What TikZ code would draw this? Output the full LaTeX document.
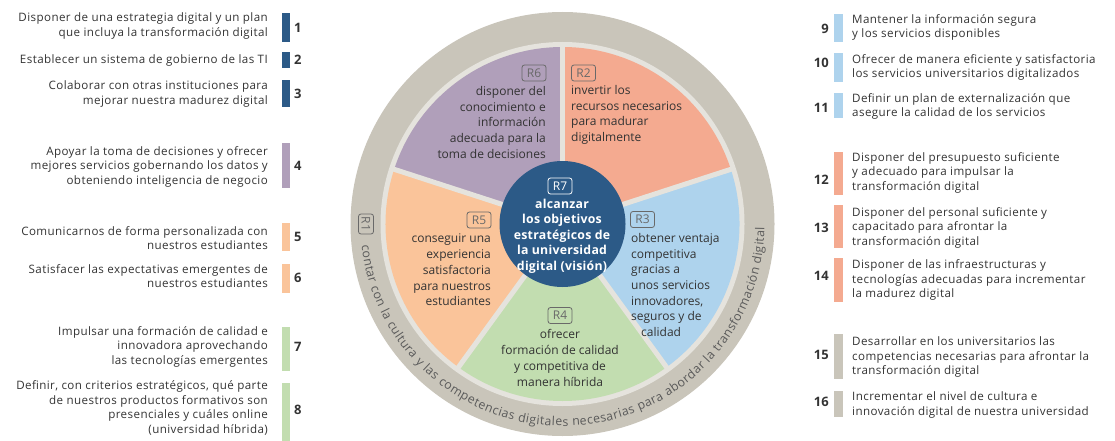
\documentclass[tikz,border=0pt]{standalone}
\usepackage{fontspec}
\setmainfont{Open Sans}
\newfontfamily\listfont{Open Sans}[LetterSpace=3.5]
\newfontfamily\ctrfont{Open Sans}[LetterSpace=2]
\usetikzlibrary{decorations.text}
\definecolor{dblue}{RGB}{44,90,135}
\definecolor{purp}{RGB}{176,159,186}
\definecolor{salm}{RGB}{244,170,144}
\definecolor{lblue}{RGB}{174,211,237}
\definecolor{lgreen}{RGB}{194,221,176}
\definecolor{peach}{RGB}{250,196,154}
\definecolor{ringc}{RGB}{201,197,186}
\definecolor{sepc}{RGB}{229,227,221}
\definecolor{txt}{RGB}{51,51,51}
\definecolor{rboxc}{RGB}{105,105,105}
\definecolor{ringtxt}{RGB}{90,90,90}
\tikzset{
  ltxt/.style={font=\listfont\fontsize{11.6}{14.5}\selectfont, text=txt, inner sep=0pt, align=right, anchor=east},
  rtxt/.style={font=\listfont\fontsize{11.6}{14.5}\selectfont, text=txt, inner sep=0pt, align=left, anchor=west},
  num/.style={font=\fontsize{13}{14}\selectfont\bfseries, text=txt, inner sep=0pt},
  rlab/.style={draw=rboxc, rounded corners=2.5pt, line width=0.8pt, text=rboxc, font=\fontsize{12}{12}\selectfont, inner sep=0pt, minimum width=24pt, minimum height=16pt},
  ptxt/.style={font=\fontsize{12}{15.7}\selectfont, text=txt, inner sep=0pt},
  septh/.style={draw=sepc, line width=5pt},
}
\begin{document}
\begin{tikzpicture}[x=1pt,y=-1pt]
\useasboundingbox (0,0) rectangle (1115,441);
% ---------- wheel ----------
\begin{scope}[shift={(562.5,224)}, y=1pt]
  \fill[ringc] (0,0) circle[radius=212];
  \fill[sepc] (0,0) circle[radius=182];
  \fill[purp] (0,0) -- (90:177) arc[start angle=90, end angle=162, radius=177] -- cycle;
  \fill[salm] (0,0) -- (18:177) arc[start angle=18, end angle=90, radius=177] -- cycle;
  \fill[lblue] (0,0) -- (-54:177) arc[start angle=-54, end angle=18, radius=177] -- cycle;
  \fill[lgreen] (0,0) -- (-126:177) arc[start angle=-126, end angle=-54, radius=177] -- cycle;
  \fill[peach] (0,0) -- (162:177) arc[start angle=162, end angle=234, radius=177] -- cycle;
  \coordinate (c0) at (0,0);
  \foreach \a in {90,18,-54,-126,162} {
    \coordinate (s\a) at (\a:180);
    \draw[septh] (c0) -- (s\a);
  }
  \fill[dblue] (0,0) circle[radius=63];
  \path[decorate, decoration={text along path, text align={fit to path},
      text={|\fontsize{12.3}{14}\selectfont\color{ringtxt}|contar con la cultura y las competencias digitales necesarias para abordar la transformación digital}}]
      (186:202) arc[start angle=186, end angle=359, radius=202];
  \node[rlab, rotate=-90, minimum width=20pt, minimum height=15pt] (r1) at (180:196.5) {R1};
\end{scope}
% ---------- wheel labels ----------
\node[rlab] (r6) at (534,73) {R6};
\node[ptxt, align=right, anchor=east] (p6) at (546,122.5) {disponer del\\conocimiento e\\información\\adecuada para la\\toma de decisiones};
\node[rlab] (r2) at (583.5,73) {R2};
\node[ptxt, align=left, anchor=west] (p2) at (571,114.75) {invertir los\\recursos necesarios\\para madurar\\digitalmente};
\node[rlab] (r3) at (642.5,219.5) {R3};
\node[ptxt, align=left, anchor=west] (p3) at (631,285) {obtener ventaja\\competitiva\\gracias a\\unos servicios\\innovadores,\\seguros y de\\\hspace*{10pt}calidad};
\node[rlab] (r4) at (560,315.5) {R4};
\node[ptxt, align=center] (p4) at (560,358) {ofrecer\\formación de calidad\\y competitiva de\\manera híbrida};
\node[rlab] (r5) at (479,220) {R5};
\node[ptxt, align=right, anchor=east] (p5) at (491,270) {conseguir una\\experiencia\\satisfactoria\\para nuestros\\estudiantes};
\node[rlab, draw=white, text=white] (r7) at (560,186) {R7};
\node[ptxt, align=center, text=white, font=\ctrfont\fontsize{12.3}{15.5}\selectfont\bfseries] (p7) at (562,236) {alcanzar\\los objetivos\\estratégicos de\\la universidad\\digital (visión)};
% ---------- left list ----------
\node[ltxt] (t1) at (268,26) {Disponer de una estrategia digital y un plan\\que incluya la transformación digital};
\fill[dblue] (282,13) rectangle (290,42);
\node[num, anchor=west] (n1) at (294,28) {1};
\node[ltxt] (t2) at (268,60) {Establecer un sistema de gobierno de las TI};
\fill[dblue] (282,52) rectangle (290,68);
\node[num, anchor=west] (n2) at (294,60) {2};
\node[ltxt] (t3) at (268,94) {Colaborar con otras instituciones para\\mejorar nuestra madurez digital};
\fill[dblue] (282,80) rectangle (290,107);
\node[num, anchor=west] (n3) at (294,94) {3};
\node[ltxt] (t4) at (268,166.5) {Apoyar la toma de decisiones y ofrecer\\mejores servicios gobernando los datos y\\obteniendo inteligencia de negocio};
\fill[purp] (282,143) rectangle (290,188);
\node[num, anchor=west] (n4) at (294,165.5) {4};
\node[ltxt] (t5) at (268,238) {Comunicarnos de forma personalizada con\\nuestros estudiantes};
\fill[peach] (282,223) rectangle (290,251);
\node[num, anchor=west] (n5) at (294,237) {5};
\node[ltxt] (t6) at (268,276) {Satisfacer las expectativas emergentes de\\nuestros estudiantes};
\fill[peach] (282,264) rectangle (290,293);
\node[num, anchor=west] (n6) at (294,278) {6};
\node[ltxt] (t7) at (268,346.5) {Impulsar una formación de calidad e\\innovadora aprovechando\\las tecnologías emergentes};
\fill[lgreen] (282,327) rectangle (290,371);
\node[num, anchor=west] (n7) at (294,347) {7};
\node[ltxt] (t8) at (268,408) {Definir, con criterios estratégicos, qué parte\\de nuestros productos formativos son\\presenciales y cuáles online\\(universidad híbrida)};
\fill[lgreen] (282,383) rectangle (290,441);
\node[num, anchor=west] (n8) at (294,410) {8};
% ---------- right list ----------
\node[rtxt] (t9) at (852,27.5) {Mantener la información segura\\y los servicios disponibles};
\fill[lblue] (834,14) rectangle (843,42);
\node[num, anchor=east] (n9) at (829,29) {9};
\node[rtxt] (t10) at (852,67.5) {Ofrecer de manera eficiente y satisfactoria\\los servicios universitarios digitalizados};
\fill[lblue] (834,53) rectangle (843,82);
\node[num, anchor=east] (n10) at (829,63) {10};
\node[rtxt] (t11) at (852,106.5) {Definir un plan de externalización que\\asegure la calidad de los servicios};
\fill[lblue] (834,93) rectangle (843,118);
\node[num, anchor=east] (n11) at (829,108) {11};
\node[rtxt] (t12) at (852,172.5) {Disponer del presupuesto suficiente\\y adecuado para impulsar la\\transformación digital};
\fill[salm] (834,152) rectangle (843,195);
\node[num, anchor=east] (n12) at (829,180) {12};
\node[rtxt] (t13) at (852,227.5) {Disponer del personal suficiente y\\capacitado para afrontar la\\transformación digital};
\fill[salm] (834,205) rectangle (843,248);
\node[num, anchor=east] (n13) at (829,228) {13};
\node[rtxt] (t14) at (852,280) {Disponer de las infraestructuras y\\tecnologías adecuadas para incrementar\\la madurez digital};
\fill[salm] (834,258) rectangle (843,302);
\node[num, anchor=east] (n14) at (829,276) {14};
\node[rtxt] (t15) at (852,357) {Desarrollar en los universitarios las\\competencias necesarias para afrontar la\\transformación digital};
\fill[ringc] (834,334) rectangle (843,379);
\node[num, anchor=east] (n15) at (829,355) {15};
\node[rtxt] (t16) at (852,405) {Incrementar el nivel de cultura e\\innovación digital de nuestra universidad};
\fill[ringc] (834,391) rectangle (843,417);
\node[num, anchor=east] (n16) at (829,402) {16};
\end{tikzpicture}
\end{document}
